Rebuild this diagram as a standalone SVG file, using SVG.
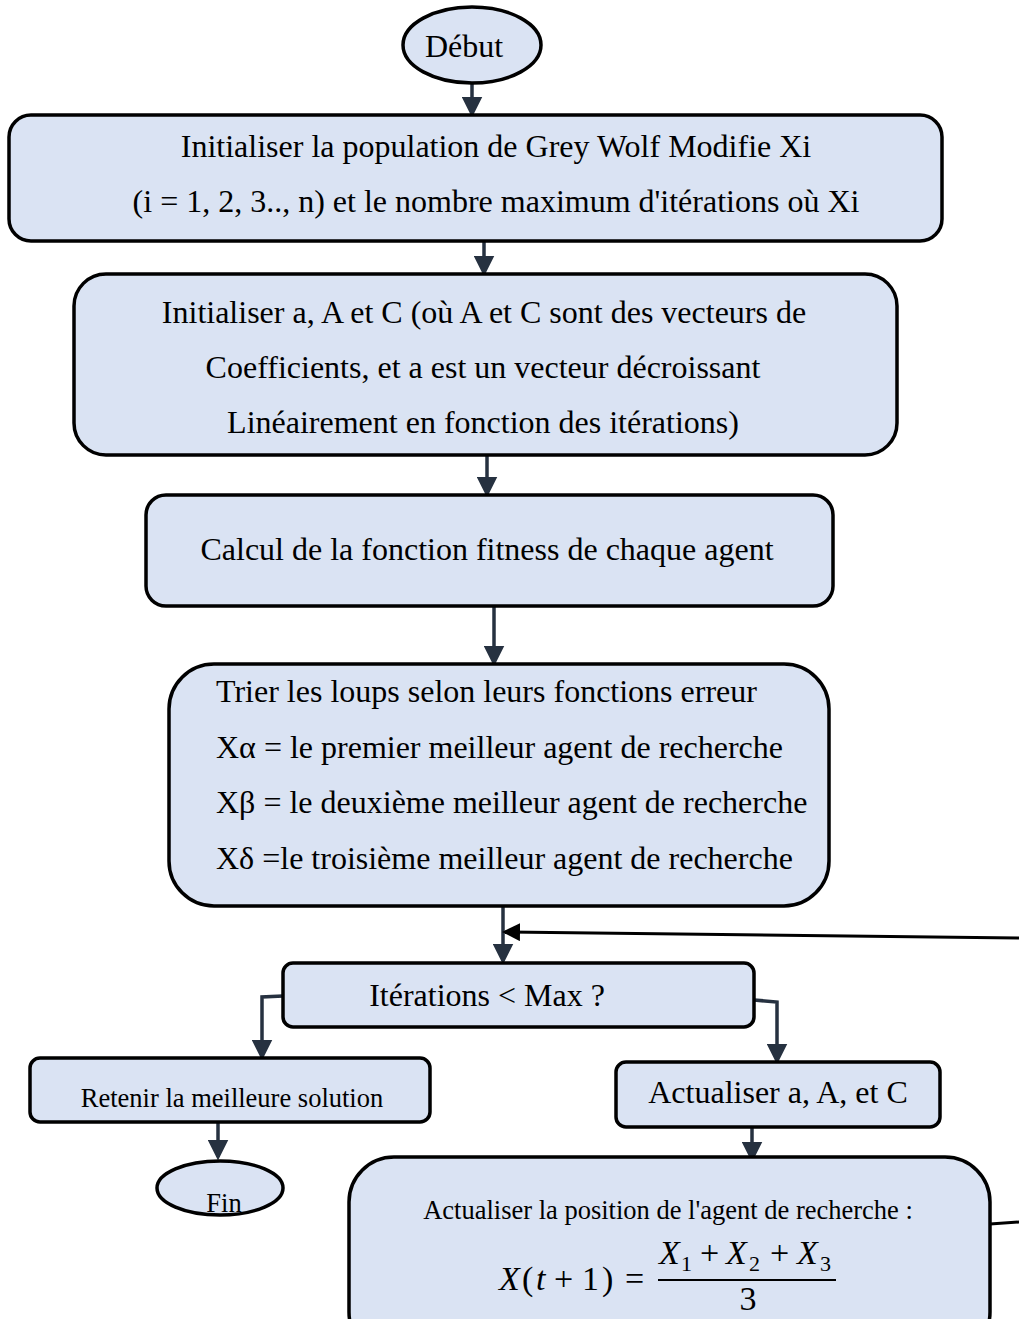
<svg xmlns="http://www.w3.org/2000/svg" width="1019" height="1319" viewBox="0 0 1019 1319">
<style>
.box{fill:#dae3f3;stroke:#000;stroke-width:3.5}
.t{font-family:"Liberation Serif","Times New Roman",serif;font-size:32px;fill:#000}
.s{font-family:"Liberation Serif","Times New Roman",serif;font-size:26.5px;fill:#000}
.m{font-family:"Liberation Serif","Times New Roman",serif;font-size:34px;fill:#000}
.i{font-style:italic}
.sub{font-size:22px}
.c{stroke:#263140;stroke-width:3.5;fill:none}
.k{stroke:#000;stroke-width:3;fill:none}
</style>
<defs>
<marker id="ah" markerWidth="6" markerHeight="6" refX="5" refY="3" orient="auto" markerUnits="strokeWidth">
<path d="M0,0 L6,3 L0,6 Z" fill="#263140"/>
</marker>
<marker id="ahk" markerWidth="6" markerHeight="6" refX="5" refY="3" orient="auto" markerUnits="strokeWidth">
<path d="M0,0 L6,3 L0,6 Z" fill="#000"/>
</marker>
</defs>
<rect width="1019" height="1319" fill="#fff"/>
<g id="connectors">
<line class="c" x1="472" y1="84" x2="472" y2="114" marker-end="url(#ah)"/>
<line class="c" x1="484" y1="242" x2="484" y2="273" marker-end="url(#ah)"/>
<line class="c" x1="487" y1="456" x2="487" y2="494" marker-end="url(#ah)"/>
<line class="c" x1="494" y1="607" x2="494" y2="663" marker-end="url(#ah)"/>
<line class="c" x1="503" y1="907" x2="503" y2="961" marker-end="url(#ah)"/>
<line class="k" x1="1019" y1="938" x2="505" y2="932" marker-end="url(#ahk)"/>
<path class="c" d="M283,996 L262,997 L262,1057" marker-end="url(#ah)"/>
<path class="c" d="M754,1000 L777,1002 L777,1061" marker-end="url(#ah)"/>
<line class="c" x1="218" y1="1123" x2="218" y2="1157" marker-end="url(#ah)"/>
<line class="c" x1="752" y1="1128" x2="752" y2="1159" marker-end="url(#ah)"/>
<line class="k" x1="990" y1="1224" x2="1019" y2="1222"/>
</g>
<g id="debut">
<ellipse class="box" cx="472" cy="45" rx="69" ry="38"/>
<text class="t" x="464" y="57" text-anchor="middle">Début</text>
</g>
<g id="init-pop">
<rect class="box" x="9" y="115" width="933" height="126" rx="22"/>
<text class="t" x="496" y="157" text-anchor="middle">Initialiser la population de Grey Wolf Modifie Xi</text>
<text class="t" x="496" y="212" text-anchor="middle">(i = 1, 2, 3.., n) et le nombre maximum d'itérations où Xi</text>
</g>
<g id="init-coef">
<rect class="box" x="74" y="274" width="823" height="181" rx="32"/>
<text class="t" x="484" y="323" text-anchor="middle">Initialiser a, A et C (où A et C sont des vecteurs de</text>
<text class="t" x="483" y="378" text-anchor="middle">Coefficients, et a est un vecteur décroissant</text>
<text class="t" x="483" y="433" text-anchor="middle">Linéairement en fonction des itérations)</text>
</g>
<g id="fitness">
<rect class="box" x="146" y="495" width="687" height="111" rx="20"/>
<text class="t" x="487" y="560" text-anchor="middle">Calcul de la fonction fitness de chaque agent</text>
</g>
<g id="trier">
<rect class="box" x="169" y="664" width="660" height="242" rx="45"/>
<text class="t" x="216" y="702">Trier les loups selon leurs fonctions erreur</text>
<text class="t" x="216" y="758">Xα = le premier meilleur agent de recherche</text>
<text class="t" x="216" y="813">Xβ = le deuxième meilleur agent de recherche</text>
<text class="t" x="216" y="869">Xδ =le troisième meilleur agent de recherche</text>
</g>
<g id="iterations">
<rect class="box" x="283" y="963" width="471" height="64" rx="10"/>
<text class="t" x="487" y="1006" text-anchor="middle">Itérations &lt; Max ?</text>
</g>
<g id="retenir">
<rect class="box" x="30" y="1058" width="400" height="64" rx="10"/>
<text class="s" x="232" y="1107" text-anchor="middle">Retenir la meilleure solution</text>
</g>
<g id="fin">
<ellipse class="box" cx="220" cy="1188" rx="63" ry="27"/>
<text class="s" x="224" y="1212" text-anchor="middle">Fin</text>
</g>
<g id="actualiser-coef">
<rect class="box" x="616" y="1062" width="324" height="65" rx="10"/>
<text class="t" x="778" y="1103" text-anchor="middle">Actualiser a, A, et C</text>
</g>
<g id="actualiser-pos">
<rect class="box" x="349" y="1157" width="641" height="200" rx="45"/>
<text class="s" x="668" y="1219" text-anchor="middle">Actualiser la position de l'agent de recherche :</text>
<text class="m" y="1290"><tspan class="i" x="499">X</tspan><tspan x="522">(</tspan><tspan class="i" x="536">t</tspan><tspan x="554">+</tspan><tspan x="582">1</tspan><tspan x="602">)</tspan><tspan x="625">=</tspan></text>
<text class="m" y="1264"><tspan class="i" x="659">X</tspan><tspan class="sub" x="681" dy="7">1</tspan><tspan x="700" dy="-7">+</tspan><tspan class="i" x="726">X</tspan><tspan class="sub" x="749" dy="7">2</tspan><tspan x="770" dy="-7">+</tspan><tspan class="i" x="797">X</tspan><tspan class="sub" x="820" dy="7">3</tspan></text>
<line x1="658" y1="1280" x2="836" y2="1280" stroke="#000" stroke-width="1.8"/>
<text class="m" x="748" y="1310" text-anchor="middle">3</text>
</g>
</svg>
